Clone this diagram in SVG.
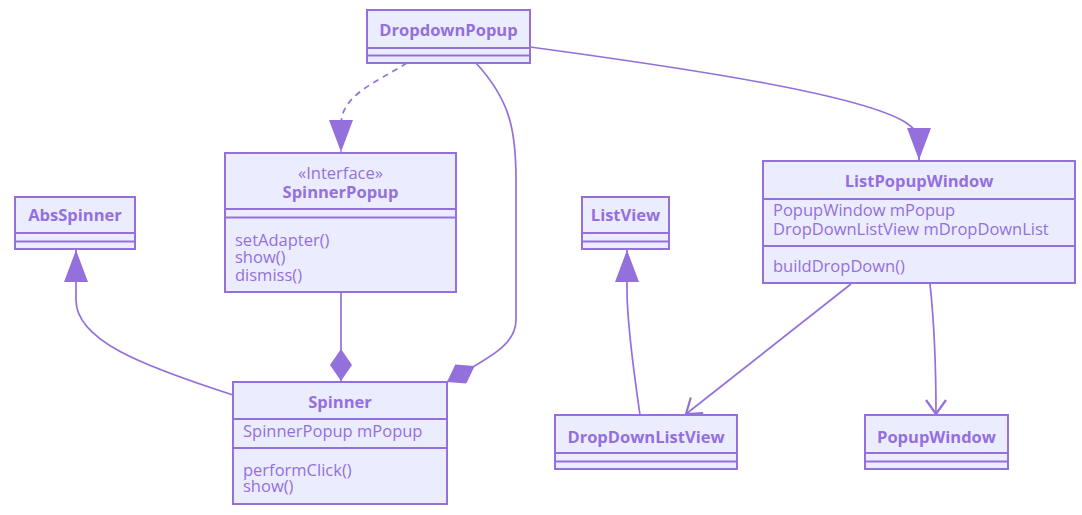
<svg xmlns="http://www.w3.org/2000/svg" width="1082" height="515" viewBox="0 0 1082 515">
<style>
.box{fill:#ECECFF;stroke:#9370DB;stroke-width:2}
.div{stroke:#9370DB;stroke-width:2}
.t{font-family:"Open Sans","DejaVu Sans",sans-serif;font-size:16.5px;fill:#9370DB}
.title{font-weight:bold;text-anchor:middle}
.mid{text-anchor:middle}
.edge{fill:none;stroke:#9370DB;stroke-width:1.7}
.dash{stroke-dasharray:6 5}
</style>
<defs>
<marker id="tri" markerUnits="userSpaceOnUse" viewBox="0 0 32 24" refX="32" refY="12" markerWidth="32" markerHeight="24" orient="auto"><path d="M0,0 L32,12 L0,24 z" fill="#9370DB"/></marker>
<marker id="dia" markerUnits="userSpaceOnUse" viewBox="0 0 32 22" refX="32" refY="11" markerWidth="32" markerHeight="22" orient="auto"><path d="M0,11 L16,0 L32,11 L16,22 z" fill="#9370DB"/></marker>
<marker id="open" markerUnits="userSpaceOnUse" viewBox="-2 -2 18 24" refX="14" refY="10" markerWidth="18" markerHeight="24" orient="auto" overflow="visible"><path d="M0,0 L14,10 L0,20" fill="none" stroke="#9370DB" stroke-width="2.2"/></marker>
</defs>
<rect width="1082" height="515" fill="#fff"/>
<g id="connectors">
<path class="edge dash" d="M407,63 C375,83 341,95 341,125 L341,152" marker-end="url(#tri)"/>
<path class="edge" d="M476,63 C510,100 516,130 516,180 L516,320 C516,345 490,357 447,382" marker-end="url(#dia)"/>
<path class="edge" d="M530,47 C700,70 860,95 905,122 Q919,131 919,140 L919,160" marker-end="url(#tri)"/>
<path class="edge" d="M341,292 L341,381" marker-end="url(#dia)"/>
<path class="edge" d="M233,395 C140,365 76,340 76,300 L76,250" marker-end="url(#tri)"/>
<path class="edge" d="M640,415 C632,360 627,320 627,290 L627,250" marker-end="url(#tri)"/>
<path class="edge" d="M851,284 L686,414" marker-end="url(#open)"/>
<path class="edge" d="M930,284 C935,330 936,370 936,414" marker-end="url(#open)"/>
</g>
<g id="DropdownPopup">
<rect class="box" x="367" y="10" width="163" height="53"/>
<line class="div" x1="367" y1="48" x2="530" y2="48"/>
<line class="div" x1="367" y1="55.5" x2="530" y2="55.5"/>
<text class="t title" x="448.5" y="36">DropdownPopup</text>
</g>
<g id="SpinnerPopup">
<rect class="box" x="225" y="153" width="231" height="139"/>
<line class="div" x1="225" y1="209" x2="456" y2="209"/>
<line class="div" x1="225" y1="217.5" x2="456" y2="217.5"/>
<text class="t mid" x="340.5" y="179">«Interface»</text>
<text class="t title" x="340.5" y="198">SpinnerPopup</text>
<text class="t" x="235" y="245.5">setAdapter()</text>
<text class="t" x="235" y="263">show()</text>
<text class="t" x="235" y="280.5">dismiss()</text>
</g>
<g id="AbsSpinner">
<rect class="box" x="15" y="197" width="120" height="52"/>
<line class="div" x1="15" y1="233" x2="135" y2="233"/>
<line class="div" x1="15" y1="241.5" x2="135" y2="241.5"/>
<text class="t title" x="75" y="221">AbsSpinner</text>
</g>
<g id="ListView">
<rect class="box" x="582" y="197" width="87" height="52"/>
<line class="div" x1="582" y1="233" x2="669" y2="233"/>
<line class="div" x1="582" y1="241.5" x2="669" y2="241.5"/>
<text class="t title" x="625.5" y="221">ListView</text>
</g>
<g id="ListPopupWindow">
<rect class="box" x="763" y="161" width="312" height="122"/>
<line class="div" x1="763" y1="199" x2="1075" y2="199"/>
<line class="div" x1="763" y1="246" x2="1075" y2="246"/>
<text class="t title" x="919" y="187">ListPopupWindow</text>
<text class="t" x="773" y="215.5">PopupWindow mPopup</text>
<text class="t" x="773" y="234.5">DropDownListView mDropDownList</text>
<text class="t" x="773" y="272">buildDropDown()</text>
</g>
<g id="Spinner">
<rect class="box" x="233" y="382" width="214" height="122"/>
<line class="div" x1="233" y1="419" x2="447" y2="419"/>
<line class="div" x1="233" y1="448" x2="447" y2="448"/>
<text class="t title" x="340" y="408">Spinner</text>
<text class="t" x="243" y="437">SpinnerPopup mPopup</text>
<text class="t" x="243" y="475.5">performClick()</text>
<text class="t" x="243" y="492">show()</text>
</g>
<g id="DropDownListView">
<rect class="box" x="555" y="415" width="182" height="54"/>
<line class="div" x1="555" y1="453" x2="737" y2="453"/>
<line class="div" x1="555" y1="461.5" x2="737" y2="461.5"/>
<text class="t title" x="646" y="443">DropDownListView</text>
</g>
<g id="PopupWindow">
<rect class="box" x="865" y="415" width="143" height="54"/>
<line class="div" x1="865" y1="453" x2="1008" y2="453"/>
<line class="div" x1="865" y1="461.5" x2="1008" y2="461.5"/>
<text class="t title" x="936.5" y="443">PopupWindow</text>
</g>
</svg>
